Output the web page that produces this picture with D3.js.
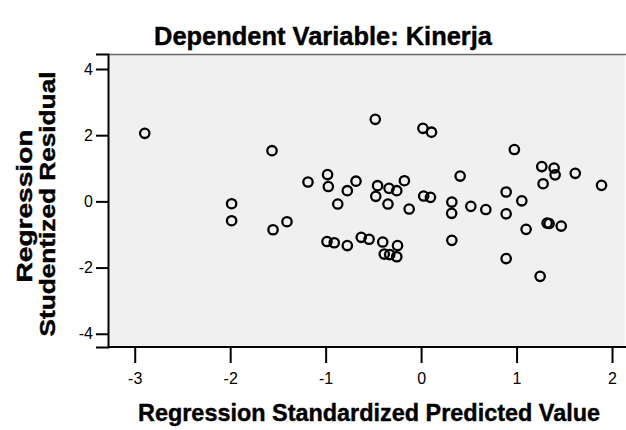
<!DOCTYPE html>
<html>
<head>
<meta charset="utf-8">
<script src="https://cdn.jsdelivr.net/npm/d3@7"></script>
<style>
  body { margin: 0; background: #fff; }
  text { font-family: "Liberation Sans", Arial, sans-serif; }
  .lbl { font-weight: bold; stroke: #000; stroke-width: 0.4px; }
</style>
</head>
<body>
<div id="chart"></div>
<script>
// Standardized predicted values (x) and studentized residuals (y)
const predicted = [
  -2.895, -1.985, -1.985, -1.562, -1.551, -1.405, -1.185, -0.980, -0.972, -0.986,
  -0.910, -0.873, -0.773, -0.773, -0.682, -0.627, -0.545, -0.480, -0.456, -0.475,
  -0.402, -0.386, -0.329, -0.255, -0.247, -0.336, -0.347, -0.255, -0.175, -0.125,
   0.027,  0.098,  0.019,  0.109,  0.409,  0.322,  0.320,  0.322,  0.521,  0.678,
   0.891,  0.891,  0.891,  0.977,  1.055,  1.100,  1.247,  1.264,  1.278,  1.393,
   1.404,  1.320,  1.341,  1.468,  1.615,  1.890
];
const residual = [
   2.057, -0.071, -0.585,  1.531, -0.857, -0.615,  0.585,  0.811,  0.449, -1.213,
  -1.250, -0.080,  0.322, -1.334,  0.609, -1.086, -1.144,  2.480,  0.473,  0.153,
  -1.228, -1.591, -1.606, -1.673, -1.334,  0.394, -0.080,  0.322,  0.624, -0.231,
   0.162,  0.122,  2.208,  2.090,  0.766, -0.020, -0.361, -1.177, -0.150, -0.246,
   0.283, -0.376, -1.727,  1.567,  0.017, -0.845, -2.265,  1.053,  0.533,  1.008,
   0.802, -0.654, -0.669, -0.745,  0.848,  0.485
];
const xTicks = [-3, -2, -1, 0, 1, 2];
const yTicks = [-4, -2, 0, 2, 4];

const width = 626, height = 430;
const margin = {top: 54, right: 1, bottom: 83, left: 108};

const svg = d3.select('#chart')
    .append('svg')
    .attr('width', width)
    .attr('height', height);

const x = d3.scaleLinear()
    .domain([-3.28, 2.136])
    .range([margin.left, width - margin.right]);

const y = d3.scaleLinear()
    .domain([-4.40, 4.453])
    .range([height - margin.bottom, margin.top]);

// plot background
svg.append('rect')
    .attr('x', margin.left)
    .attr('y', margin.top)
    .attr('width', width - margin.right - margin.left)
    .attr('height', height - margin.bottom - margin.top)
    .attr('fill', '#f0f0f0');

// top border
svg.append('line')
    .attr('x1', margin.left).attr('x2', width)
    .attr('y1', margin.top + 0.5).attr('y2', margin.top + 0.5)
    .attr('stroke', '#666').attr('stroke-width', 1.5);

// plain hyphen minus, like the original output
const fmt = d => String(d);

// x axis
const xAxis = svg.append('g')
    .attr('transform', `translate(0,${height - margin.bottom})`)
    .call(d3.axisBottom(x).tickValues(xTicks).tickSize(16).tickPadding(10).tickFormat(fmt));

// y axis
const yAxis = svg.append('g')
    .attr('transform', `translate(${margin.left},0)`)
    .call(d3.axisLeft(y).tickValues(yTicks).tickSize(12).tickPadding(3).tickFormat(fmt));

[xAxis, yAxis].forEach(g => {
    g.attr('font-size', 16);
    g.select('.domain').attr('stroke', '#000').attr('stroke-width', 2);
    g.selectAll('.tick line').attr('stroke', '#000').attr('stroke-width', 2);
    g.selectAll('.tick text').attr('fill', '#000').attr('font-size', 16);
});
xAxis.select('.domain').attr('d', `M${margin.left},0H${width}`);

// points
svg.append('g')
    .selectAll('circle')
    .data(predicted.map((d, i) => [d, residual[i]]))
    .enter()
    .append('circle')
    .attr('cx', d => x(d[0]))
    .attr('cy', d => y(d[1]))
    .attr('r', 4.7)
    .attr('fill', 'none')
    .attr('stroke', '#000')
    .attr('stroke-width', 2.3);

// title
svg.append('text')
    .attr('class', 'lbl')
    .attr('x', 323).attr('y', 45)
    .attr('text-anchor', 'middle')
    .attr('textLength', 338).attr('lengthAdjust', 'spacingAndGlyphs')
    .attr('font-size', 25)
    .text('Dependent Variable: Kinerja');

// x label
svg.append('text')
    .attr('class', 'lbl')
    .attr('x', 369).attr('y', 421)
    .attr('text-anchor', 'middle')
    .attr('textLength', 462).attr('lengthAdjust', 'spacingAndGlyphs')
    .attr('font-size', 24)
    .text('Regression Standardized Predicted Value');

// y label, two lines
svg.append('text')
    .attr('class', 'lbl')
    .attr('transform', 'translate(32,206) rotate(-90)')
    .attr('text-anchor', 'middle')
    .attr('textLength', 153).attr('lengthAdjust', 'spacingAndGlyphs')
    .attr('font-size', 22)
    .text('Regression');

svg.append('text')
    .attr('class', 'lbl')
    .attr('transform', 'translate(55,204) rotate(-90)')
    .attr('text-anchor', 'middle')
    .attr('textLength', 265).attr('lengthAdjust', 'spacingAndGlyphs')
    .attr('font-size', 22)
    .text('Studentized Residual');
</script>
</body>
</html>
